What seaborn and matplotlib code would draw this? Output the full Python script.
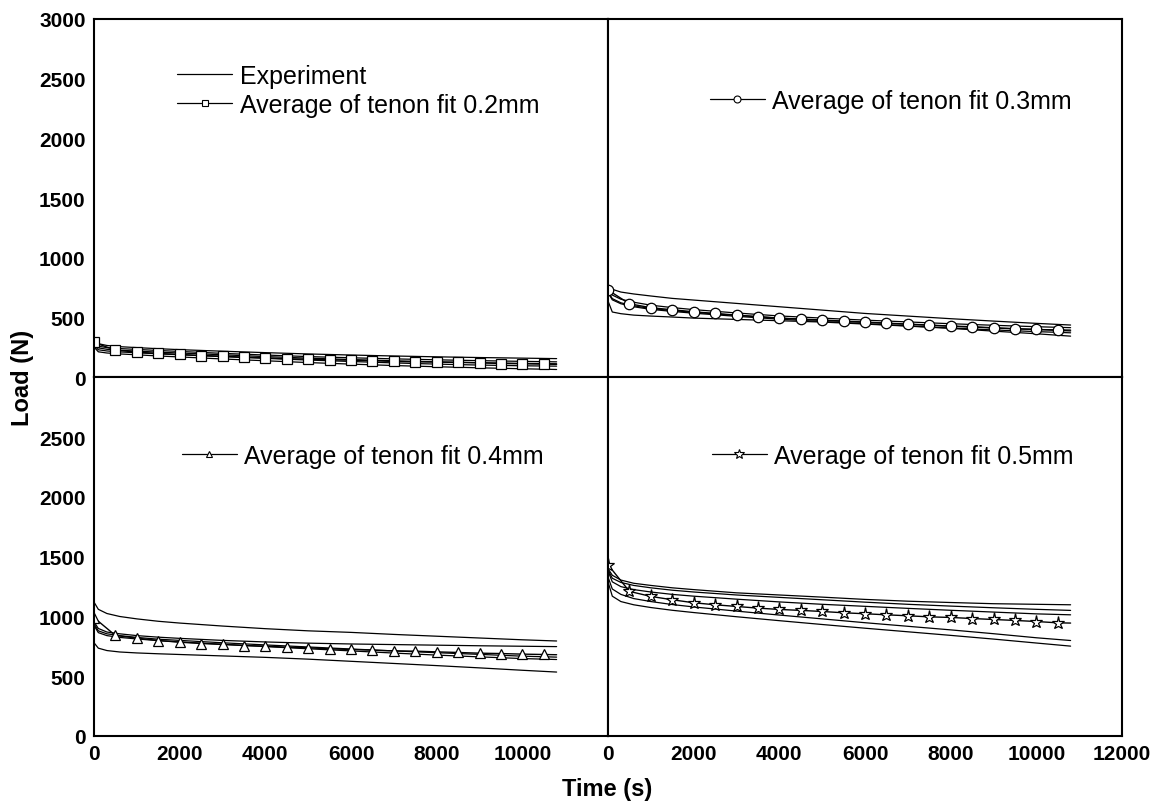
import matplotlib
matplotlib.use('Agg')
import matplotlib.pyplot as plt
from matplotlib.lines import Line2D
from matplotlib.ticker import MultipleLocator
import seaborn as sns

# time grid of the experiment curves (s)
t_exp = [0, 100, 300, 600, 1000, 1500, 2000, 3000, 4000, 5000, 6000, 7000, 8000, 9000, 10000, 10800]

# experiment curves (N)
exp_02 = [
    [305, 283, 268, 258, 250, 241, 233, 220, 208, 197, 188, 180, 173, 167, 162, 158],
    [295, 262, 250, 242, 235, 226, 218, 202, 188, 175, 165, 156, 148, 141, 135, 131],
    [282, 248, 236, 228, 221, 212, 205, 190, 175, 162, 150, 140, 131, 124, 118, 115],
    [270, 232, 222, 214, 207, 198, 190, 174, 160, 146, 134, 122, 112, 104, 98, 95],
    [255, 215, 205, 197, 190, 180, 172, 155, 140, 125, 112, 100, 90, 81, 73, 67],
]
exp_03 = [
    [766, 738, 715, 699, 682, 662, 648, 620, 592, 564, 536, 514, 492, 472, 453, 439],
    [745, 690, 655, 630, 605, 585, 568, 540, 515, 497, 480, 465, 450, 437, 425, 417],
    [720, 660, 625, 600, 577, 560, 545, 520, 497, 478, 461, 445, 429, 414, 402, 397],
    [710, 650, 617, 592, 570, 553, 538, 512, 488, 468, 450, 432, 414, 398, 384, 374],
    [640, 548, 534, 522, 514, 506, 497, 486, 475, 464, 447, 430, 411, 388, 366, 346],
]
exp_04 = [
    [1120, 1060, 1025, 1000, 980, 960, 945, 920, 898, 880, 867, 850, 835, 820, 805, 795],
    [955, 900, 870, 855, 840, 827, 817, 800, 787, 777, 770, 765, 760, 755, 751, 748],
    [940, 880, 855, 840, 825, 810, 800, 780, 762, 745, 728, 712, 697, 683, 668, 660],
    [925, 865, 840, 825, 812, 798, 787, 768, 748, 730, 712, 694, 677, 662, 648, 640],
    [780, 735, 715, 703, 695, 688, 682, 670, 658, 643, 625, 607, 589, 570, 550, 535],
]
exp_05 = [
    [1400, 1345, 1305, 1278, 1260, 1240, 1225, 1198, 1180, 1162, 1143, 1128, 1117, 1107, 1102, 1098],
    [1390, 1320, 1285, 1260, 1240, 1220, 1205, 1180, 1160, 1140, 1120, 1102, 1087, 1073, 1060, 1051],
    [1380, 1290, 1250, 1225, 1205, 1185, 1170, 1145, 1122, 1102, 1085, 1068, 1052, 1037, 1022, 1014],
    [1330, 1230, 1185, 1150, 1125, 1100, 1080, 1045, 1012, 980, 948, 918, 888, 856, 822, 799],
    [1290, 1170, 1125, 1098, 1075, 1052, 1033, 998, 965, 933, 902, 872, 842, 811, 778, 752],
]

# averaged curves, symbols every 500 s
t_avg = [0, 500, 1000, 1500, 2000, 2500, 3000, 3500, 4000, 4500, 5000, 5500,
         6000, 6500, 7000, 7500, 8000, 8500, 9000, 9500, 10000, 10500, 10800]
avg_02 = [293, 229, 212, 201, 193, 184, 179, 170, 165, 156, 154, 148,
          145, 140, 134, 131, 129, 126, 123, 117, 115, 112, 110]
avg_03 = [732, 617, 584, 567, 550, 536, 522, 509, 497, 489, 481, 472,
          464, 455, 447, 439, 430, 425, 416, 408, 402, 394, 390]
avg_04 = [990, 841, 819, 799, 785, 774, 766, 757, 752, 743, 738, 729,
          724, 718, 712, 710, 704, 699, 693, 690, 685, 682, 680]
avg_05 = [1433, 1210, 1168, 1140, 1115, 1098, 1084, 1070, 1059, 1051, 1042, 1031,
          1023, 1014, 1006, 997, 992, 983, 975, 967, 958, 947, 945]

labels = ['Average of tenon fit 0.2mm', 'Average of tenon fit 0.3mm',
          'Average of tenon fit 0.4mm', 'Average of tenon fit 0.5mm']
markers = ['s', 'o', '^', '*']

sns.set_style('white')
plt.rcParams['font.family'] = ['Liberation Sans', 'DejaVu Sans']
plt.rcParams['text.color'] = 'black'
plt.rcParams['axes.labelcolor'] = 'black'
plt.rcParams['xtick.color'] = 'black'
plt.rcParams['ytick.color'] = 'black'

fig, axes = plt.subplots(2, 2, figsize=(11.51, 8.03), dpi=100,
                         gridspec_kw=dict(hspace=0, wspace=0))
fig.subplots_adjust(left=0.0817, right=0.9748, bottom=0.0822, top=0.9751)

panels = [
    (axes[0, 0], exp_02, avg_02, 0, (0.1615, 0.874), True),
    (axes[0, 1], exp_03, avg_03, 1, (0.198, 0.806), False),
    (axes[1, 0], exp_04, avg_04, 2, (0.171, 0.815), False),
    (axes[1, 1], exp_05, avg_05, 3, (0.202, 0.815), False),
]

for ax, exps, avg, i, anchor, with_exp in panels:
    for curve in exps:
        sns.lineplot(x=t_exp, y=curve, ax=ax, color='black', lw=0.9, legend=False)
    ms = 9.5 if markers[i] == '*' else 7.5
    sns.lineplot(x=t_avg, y=avg, ax=ax, color='black', lw=1.0, marker=markers[i],
                 markersize=ms, markerfacecolor='white', markeredgecolor='black',
                 markeredgewidth=0.9, markevery=list(range(22)), legend=False)

    handles = []
    if with_exp:
        handles.append(Line2D([], [], color='black', lw=0.9, label='Experiment'))
    handles.append(Line2D([], [], color='black', lw=0.9, marker=markers[i],
                          markersize=5 if markers[i] != '*' else 7,
                          markerfacecolor='white', markeredgecolor='black',
                          markeredgewidth=0.8, label=labels[i]))
    ax.legend(handles=handles, loc='upper left', bbox_to_anchor=anchor,
              frameon=False, fontsize=18, borderpad=0, borderaxespad=0,
              handlelength=2.2, handletextpad=0.3, labelspacing=0.2,
              labelcolor='black')

    ax.set_xlim(0, 12000)
    ax.set_ylim(0, 3000)
    ax.set_xlabel('')
    ax.set_ylabel('')
    ax.xaxis.set_minor_locator(MultipleLocator(1000))
    ax.yaxis.set_minor_locator(MultipleLocator(250))
    for sp in ax.spines.values():
        sp.set_linewidth(1.5)
        sp.set_color('black')

tick_font = dict(fontsize=15, fontweight='bold', color='black')
xt = [0, 2000, 4000, 6000, 8000, 10000, 12000]
yt = [0, 500, 1000, 1500, 2000, 2500, 3000]

# top row: inward x ticks without labels
for ax in axes[0]:
    ax.set_xticks(xt, [''] * len(xt))
# bottom row
axes[1, 0].set_xticks(xt, [str(v) for v in xt[:-1]] + [''], **tick_font)
axes[1, 1].set_xticks(xt, [str(v) for v in xt], **tick_font)
# left column
axes[0, 0].set_yticks(yt, [str(v) for v in yt], **tick_font)
axes[1, 0].set_yticks(yt, [str(v) for v in yt[:-1]] + [''], **tick_font)

for ax in axes.flat:
    ax.tick_params(which='both', direction='in', top=False, right=False,
                   width=1.2, color='black', pad=6)
    ax.tick_params(which='major', length=6)
    ax.tick_params(which='minor', length=3.5)
for ax in axes[:, 1]:
    ax.set_yticks(yt, [''] * len(yt))
    ax.tick_params(which='both', left=False)

fig.text(607 / 1151, 1 - 790 / 803, 'Time (s)', ha='center', va='center',
         fontsize=17, fontweight='bold', color='black')
fig.text(22 / 1151, 1 - 378 / 803, 'Load (N)', ha='center', va='center',
         rotation=90, fontsize=17, fontweight='bold', color='black')

fig.savefig('out.png', dpi=100)
